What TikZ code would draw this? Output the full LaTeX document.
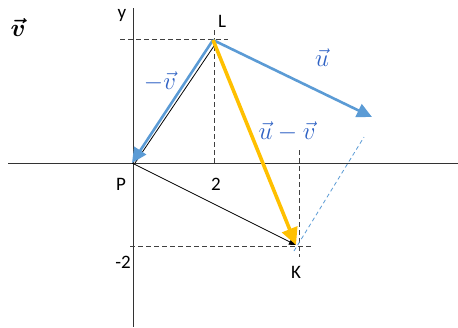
\documentclass[tikz,border=0pt]{standalone}
\usepackage{fontspec}
\usepackage{amsmath}
\usepackage{bm}
\setsansfont{Carlito}
\usetikzlibrary{arrows.meta}
\definecolor{ublue}{HTML}{5B9BD5}
\definecolor{uyellow}{HTML}{FFC000}
\definecolor{hand}{HTML}{2F62C4}
\tikzset{
  axis/.style={draw=black!80, line width=1pt},
  guide/.style={draw=black!75, dashed, line width=0.8pt, dash pattern=on 5pt off 3pt},
  lbl/.style={font=\sffamily\fontsize{19}{20}\selectfont, inner sep=0pt},
  hlbl/.style={text=hand, font=\fontsize{29}{31}\selectfont, inner sep=0pt},
  bluearrow/.style={draw=ublue, line width=2.6pt, -{Triangle[length=15pt,width=14pt]}},
  yellowarrow/.style={draw=uyellow, line width=3.6pt, -{Triangle[length=17pt,width=16pt]}},
  thinblack/.style={draw=black, line width=0.8pt},
}
\begin{document}
\begin{tikzpicture}[x=1pt,y=-1pt]
\useasboundingbox (0,0) rectangle (458,327);
% points
\coordinate (P) at (132,163);
\coordinate (L) at (213,40);
\coordinate (K) at (296,245);
\coordinate (U) at (372,117);
\coordinate (D) at (364,137);
% axes
\coordinate (xa) at (8,163);
\coordinate (xb) at (458,163);
\coordinate (ya) at (133,8);
\coordinate (yb) at (133,327);
\draw[axis] (xa) -- (xb);
\draw[axis] (ya) -- (yb);
% guides
\coordinate (gl1) at (120,39);
\coordinate (gl2) at (228,39);
\coordinate (gl3) at (214,30);
\coordinate (gl4) at (214,163);
\draw[guide] (gl1) -- (gl2);
\draw[guide] (gl3) -- (gl4);
\coordinate (gk1) at (130,246);
\coordinate (gk2) at (313,246);
\coordinate (gk3) at (299,150);
\coordinate (gk4) at (299,257);
\draw[guide] (gk1) -- (gk2);
\draw[guide] (gk3) -- (gk4);
% blue dashed
\coordinate (dk) at (294,251);
\draw[ublue, dashed, line width=0.8pt, dash pattern=on 4pt off 3pt] (dk) -- (D);
% black lines
\coordinate (L2) at (216,43);
\coordinate (P2) at (135,163);
\draw[thinblack] (L2) -- (P2);
\draw[thinblack, -{Triangle[length=7pt,width=6pt]}] (P) -- (K);
% arrows
\draw[bluearrow] (L) -- (P);
\draw[bluearrow] (L) -- (U);
\draw[yellowarrow] (L) -- (K);
% labels
\node[lbl] (ly) at (122,15) {y};
\node[lbl] (lL) at (222,21) {L};
\node[lbl] (lP) at (121,184) {P};
\node[lbl] (l2) at (216,184) {2};
\node[lbl] (lm2) at (123,262) {-2};
\node[lbl] (lK) at (296,272) {K};
\node[inner sep=0pt, font=\fontsize{30}{32}\selectfont] (vv) at (18,27) {$\bm{\vec{v}}$};
\node[hlbl] (mv) at (160,82) {$-\vec{v}$};
\node[hlbl] (uu) at (322,58) {$\vec{u}$};
\node[hlbl] (umv) at (287,132) {$\vec{u}-\vec{v}$};
\end{tikzpicture}
\end{document}
